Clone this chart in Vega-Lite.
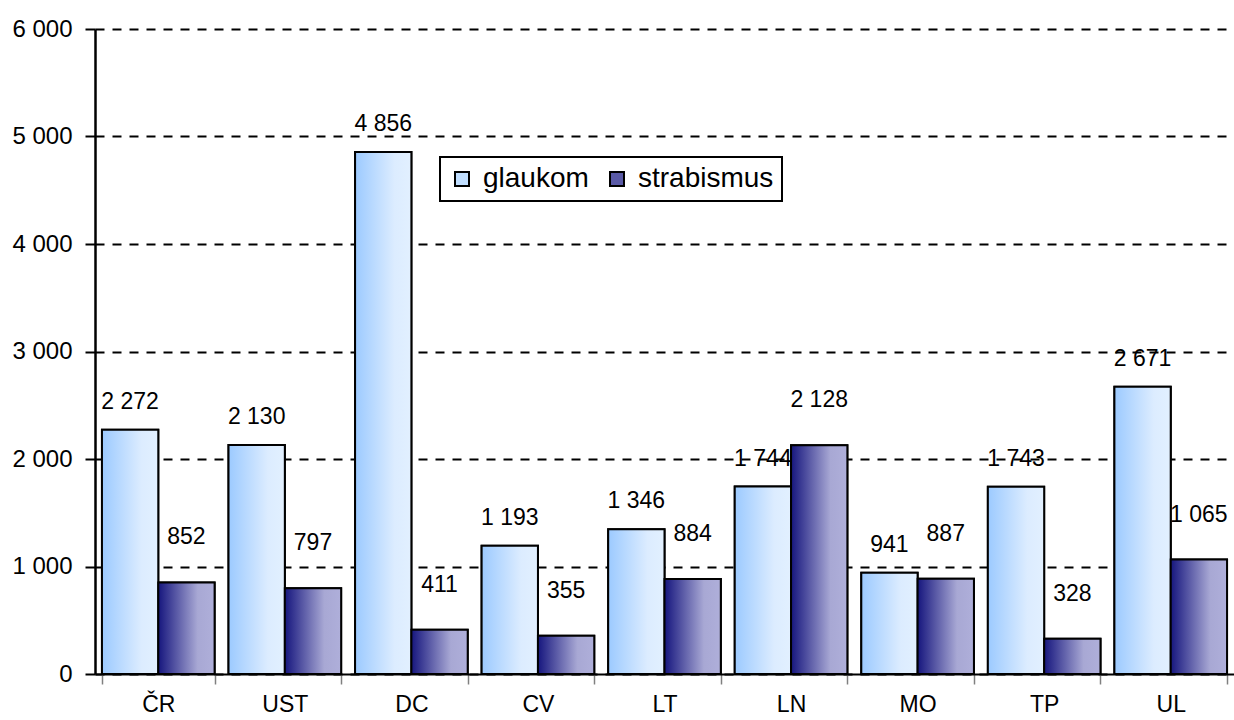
{
  "$schema": "https://vega.github.io/schema/vega-lite/v6.json",
  "width": 1139,
  "height": 645,
  "autosize": {"type": "none"},
  "padding": {"left": 95, "top": 29, "right": 0, "bottom": 46},
  "background": "white",
  "config": {
    "font": "Liberation Sans",
    "view": {"stroke": null},
    "legend": {"strokeWidth": 2},
    "locale": {"number": {"decimal": ",", "thousands": " ", "grouping": [3], "currency": ["", ""]}}
  },
  "data": {
    "values": [
      {"kraj": "ČR", "nemoc": "glaukom", "pocet": 2272},
      {"kraj": "ČR", "nemoc": "strabismus", "pocet": 852},
      {"kraj": "UST", "nemoc": "glaukom", "pocet": 2130},
      {"kraj": "UST", "nemoc": "strabismus", "pocet": 797},
      {"kraj": "DC", "nemoc": "glaukom", "pocet": 4856},
      {"kraj": "DC", "nemoc": "strabismus", "pocet": 411},
      {"kraj": "CV", "nemoc": "glaukom", "pocet": 1193},
      {"kraj": "CV", "nemoc": "strabismus", "pocet": 355},
      {"kraj": "LT", "nemoc": "glaukom", "pocet": 1346},
      {"kraj": "LT", "nemoc": "strabismus", "pocet": 884},
      {"kraj": "LN", "nemoc": "glaukom", "pocet": 1744},
      {"kraj": "LN", "nemoc": "strabismus", "pocet": 2128},
      {"kraj": "MO", "nemoc": "glaukom", "pocet": 941},
      {"kraj": "MO", "nemoc": "strabismus", "pocet": 887},
      {"kraj": "TP", "nemoc": "glaukom", "pocet": 1743},
      {"kraj": "TP", "nemoc": "strabismus", "pocet": 328},
      {"kraj": "UL", "nemoc": "glaukom", "pocet": 2671},
      {"kraj": "UL", "nemoc": "strabismus", "pocet": 1065}
    ]
  },
  "encoding": {
    "x": {
      "field": "kraj",
      "type": "nominal",
      "sort": ["ČR", "UST", "DC", "CV", "LT", "LN", "MO", "TP", "UL"],
      "scale": {"paddingInner": 0.11, "paddingOuter": 0.055},
      "axis": {
        "title": null,
        "labelAngle": 0,
        "labelFont": "Liberation Sans",
        "labelFontSize": 23,
        "labelColor": "black",
        "labelPadding": 9,
        "domainColor": "black",
        "domainWidth": 2,
        "tickBand": "extent",
        "tickColor": "#808080",
        "tickWidth": 1.5,
        "tickSize": 10,
        "grid": false
      }
    },
    "xOffset": {"field": "nemoc", "type": "nominal", "scale": {"paddingInner": 0, "paddingOuter": 0}},
    "y": {
      "field": "pocet",
      "type": "quantitative",
      "scale": {"domain": [0, 6000], "nice": false},
      "axis": {
        "title": null,
        "values": [0, 1000, 2000, 3000, 4000, 5000, 6000],
        "format": ",d",
        "labelFont": "Liberation Sans",
        "labelFontSize": 24,
        "labelColor": "black",
        "labelPadding": 13,
        "domainColor": "black",
        "domainWidth": 2.5,
        "tickColor": "black",
        "tickWidth": 2,
        "tickSize": 10,
        "grid": true,
        "gridColor": "black",
        "gridWidth": 2,
        "gridDash": [9, 8]
      }
    }
  },
  "layer": [
    {
      "mark": {"type": "bar", "stroke": "black", "strokeWidth": 2},
      "encoding": {
        "fill": {
          "field": "nemoc",
          "type": "nominal",
          "scale": {"domain": ["glaukom", "strabismus"], "range": ["#c0deff", "#5a5aa6"]},
          "legend": {
            "title": null,
            "orient": "none",
            "legendX": 345,
            "legendY": 128,
            "direction": "horizontal",
            "symbolType": "square",
            "symbolSize": 196,
            "symbolStrokeColor": "black",
            "symbolStrokeWidth": 2,
            "labelFont": "Liberation Sans",
            "labelFontSize": 28,
            "labelColor": "black",
            "labelOffset": 7,
            "columnPadding": 14,
            "fillColor": "white",
            "strokeColor": "black",
            "padding": 8
          }
        }
      }
    },
    {
      "transform": [{"filter": "datum.nemoc === 'glaukom'"}],
      "mark": {
        "type": "bar", "stroke": "black", "strokeWidth": 2,
        "color": {"gradient": "linear", "x1": 0, "y1": 0, "x2": 1, "y2": 0, "stops": [{"offset": 0, "color": "#9ccaff"}, {"offset": 0.7, "color": "#dcecff"}, {"offset": 1, "color": "#e2f0ff"}]}
      }
    },
    {
      "transform": [{"filter": "datum.nemoc === 'strabismus'"}],
      "mark": {
        "type": "bar", "stroke": "black", "strokeWidth": 2,
        "color": {"gradient": "linear", "x1": 0, "y1": 0, "x2": 1, "y2": 0, "stops": [{"offset": 0, "color": "#16167e"}, {"offset": 0.7, "color": "#a8a8d4"}, {"offset": 1, "color": "#afafda"}]}
      }
    },
    {
      "transform": [{"filter": "datum.nemoc === 'glaukom'"}],
      "mark": {"type": "text", "baseline": "alphabetic", "dy": -21, "fontSize": 23, "font": "Liberation Sans", "color": "black"},
      "encoding": {
        "text": {"field": "pocet", "type": "quantitative", "format": ",d"}
      }
    },
    {
      "transform": [{"filter": "datum.nemoc === 'strabismus'"}],
      "mark": {"type": "text", "baseline": "alphabetic", "dy": -38, "fontSize": 23, "font": "Liberation Sans", "color": "black"},
      "encoding": {
        "text": {"field": "pocet", "type": "quantitative", "format": ",d"}
      }
    }
  ]
}
